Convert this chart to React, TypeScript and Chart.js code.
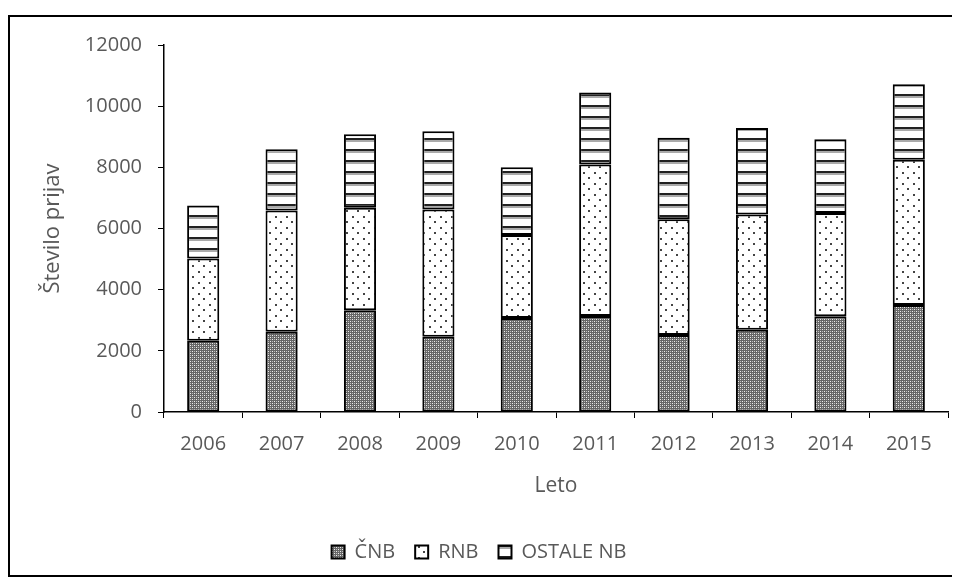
import React, { useEffect, useRef } from 'react';
import { Chart, registerables } from 'chart.js';

Chart.register(...registerables);

const years = ['2006', '2007', '2008', '2009', '2010', '2011', '2012', '2013', '2014', '2015'];
const cnb = [2330, 2620, 3330, 2460, 3070, 3140, 2520, 2690, 3130, 3500];
const rnb = [2690, 3970, 3350, 4160, 2720, 4950, 3780, 3770, 3380, 4750];
const ostale = [1730, 2000, 2400, 2560, 2210, 2360, 2670, 2830, 2410, 2470];
const seriesNames = ['ČNB', 'RNB', 'OSTALE NB'];
const yTitle = 'Število prijav';
const xTitle = 'Leto';

const FONT = "'Open Sans', sans-serif";
const TEXT = '#595959';

function makePattern(kind: string): CanvasPattern | string {
  const c = document.createElement('canvas');
  const ctx = c.getContext('2d');
  if (!ctx) return '#888';
  if (kind === 'dense') {
    c.width = 4; c.height = 4;
    ctx.fillStyle = '#666666';
    ctx.fillRect(0, 0, 4, 4);
    ctx.fillStyle = '#eeeeee';
    ctx.fillRect(0, 0, 1, 1);
    ctx.fillRect(2, 2, 1, 1);
    ctx.fillStyle = '#bbbbbb';
    ctx.fillRect(0, 2, 1, 1);
    ctx.fillRect(2, 0, 1, 1);
  } else if (kind === 'dots') {
    c.width = 11; c.height = 11;
    ctx.fillStyle = '#ffffff';
    ctx.fillRect(0, 0, 11, 11);
    ctx.fillStyle = '#444444';
    ctx.fillRect(1, 1, 2, 2);
    ctx.fillRect(6, 6, 2, 2);
  } else {
    c.width = 11; c.height = 11;
    ctx.fillStyle = '#ffffff';
    ctx.fillRect(0, 0, 11, 11);
    ctx.fillStyle = '#222222';
    ctx.fillRect(0, 0, 11, 2);
    ctx.fillStyle = '#aaaaaa';
    ctx.fillRect(0, 2, 11, 2);
  }
  return ctx.createPattern(c, 'repeat') || '#888';
}

export default function App() {
  const ref = useRef<HTMLCanvasElement | null>(null);

  useEffect(() => {
    if (!ref.current) return;
    const fills = [makePattern('dense'), makePattern('dots'), makePattern('stripes')];
    const values = [cnb, rnb, ostale];
    const chart = new Chart(ref.current, {
      type: 'bar',
      data: {
        labels: years,
        datasets: seriesNames.map((name, i) => ({
          label: name,
          data: values[i],
          backgroundColor: fills[i] as any,
          borderColor: '#000000',
          borderWidth: 2,
          borderSkipped: false,
          barPercentage: 0.41,
          categoryPercentage: 1,
        })),
      },
      options: {
        animation: false,
        responsive: false,
        maintainAspectRatio: false,
        layout: { padding: { left: 0, right: 4, top: 28, bottom: 3 } },
        plugins: {
          tooltip: { enabled: false },
          legend: {
            position: 'bottom',
            maxHeight: 54,
            labels: {
              boxWidth: 13,
              boxHeight: 13,
              padding: 20,
              color: TEXT,
              font: { family: FONT, size: 20 },
            },
          },
        },
        scales: {
          x: {
            stacked: true,
            afterFit: (s: any) => { s.height = 110; },
            grid: { drawOnChartArea: false, drawTicks: true, tickLength: 6, color: '#000000' },
            border: { color: '#000000', width: 1.5 },
            ticks: { color: TEXT, font: { family: FONT, size: 20 }, padding: 14 },
            title: {
              display: true,
              text: xTitle,
              color: TEXT,
              font: { family: FONT, size: 21 },
              padding: { top: 0, bottom: 23 },
            },
          },
          y: {
            stacked: true,
            min: 0,
            max: 12000,
            afterFit: (s: any) => { s.width = 154; },
            grid: { drawOnChartArea: false, drawTicks: true, tickLength: 6, color: '#000000' },
            border: { color: '#000000', width: 1.5 },
            ticks: {
              stepSize: 2000,
              color: TEXT,
              font: { family: FONT, size: 20 },
              padding: 16,
              callback: (v: any) => String(v),
            },
            title: {
              display: true,
              text: yTitle,
              color: TEXT,
              font: { family: FONT, size: 22 },
              padding: { top: 30, bottom: 0 },
            },
          },
        },
      },
    });
    return () => chart.destroy();
  }, []);

  return (
    <div
      style={{
        width: 946,
        height: 562,
        marginTop: 7,
        border: '2px solid #000',
        boxSizing: 'border-box',
        background: '#fff',
      }}
    >
      <canvas ref={ref} width={942} height={558} style={{ display: 'block', width: 942, height: 558 }} />
    </div>
  );
}
